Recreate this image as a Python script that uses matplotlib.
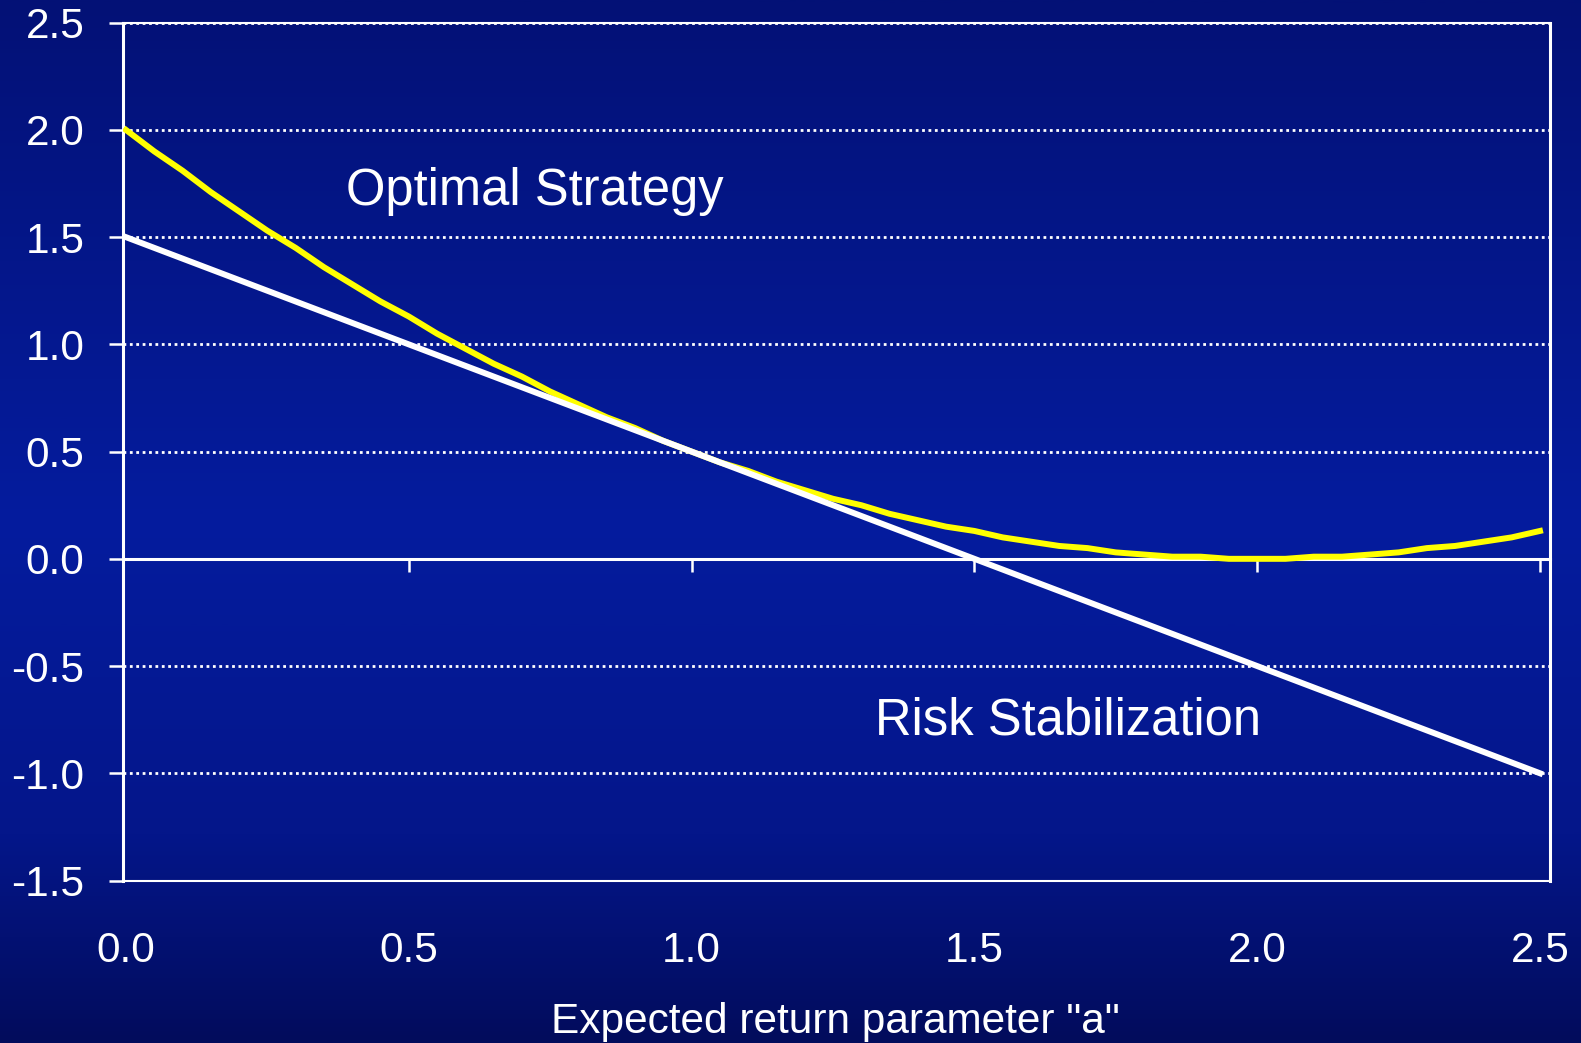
import numpy as np
import matplotlib
matplotlib.use("Agg")
import matplotlib.pyplot as plt
from matplotlib.colors import LinearSegmentedColormap

plt.rcParams["font.family"] = ["Liberation Sans", "DejaVu Sans"]

# Expected return parameter "a"
a_values = [0.00, 0.05, 0.10, 0.15, 0.20, 0.25, 0.30, 0.35, 0.40, 0.45,
            0.50, 0.55, 0.60, 0.65, 0.70, 0.75, 0.80, 0.85, 0.90, 0.95,
            1.00, 1.05, 1.10, 1.15, 1.20, 1.25, 1.30, 1.35, 1.40, 1.45,
            1.50, 1.55, 1.60, 1.65, 1.70, 1.75, 1.80, 1.85, 1.90, 1.95,
            2.00, 2.05, 2.10, 2.15, 2.20, 2.25, 2.30, 2.35, 2.40, 2.45,
            2.50]

optimal_strategy = [2.00, 1.90, 1.81, 1.71, 1.62, 1.53, 1.45, 1.36, 1.28, 1.20,
                    1.13, 1.05, 0.98, 0.91, 0.85, 0.78, 0.72, 0.66, 0.61, 0.55,
                    0.50, 0.45, 0.41, 0.36, 0.32, 0.28, 0.25, 0.21, 0.18, 0.15,
                    0.13, 0.10, 0.08, 0.06, 0.05, 0.03, 0.02, 0.01, 0.01, 0.00,
                    0.00, 0.00, 0.01, 0.01, 0.02, 0.03, 0.05, 0.06, 0.08, 0.10,
                    0.13]

risk_stabilization = [1.50, 1.45, 1.40, 1.35, 1.30, 1.25, 1.20, 1.15, 1.10, 1.05,
                      1.00, 0.95, 0.90, 0.85, 0.80, 0.75, 0.70, 0.65, 0.60, 0.55,
                      0.50, 0.45, 0.40, 0.35, 0.30, 0.25, 0.20, 0.15, 0.10, 0.05,
                      0.00, -0.05, -0.10, -0.15, -0.20, -0.25, -0.30, -0.35, -0.40, -0.45,
                      -0.50, -0.55, -0.60, -0.65, -0.70, -0.75, -0.80, -0.85, -0.90, -0.95,
                      -1.00]

x_ticks = [0.0, 0.5, 1.0, 1.5, 2.0, 2.5]
x_tick_labels = ["0.0", "0.5", "1.0", "1.5", "2.0", "2.5"]
y_ticks = [-1.5, -1.0, -0.5, 0.0, 0.5, 1.0, 1.5, 2.0, 2.5]
y_tick_labels = ["-1.5", "-1.0", "-0.5", "0.0", "0.5", "1.0", "1.5", "2.0", "2.5"]

W, H, DPI = 1581, 1043, 100
fig = plt.figure(figsize=(W / DPI, H / DPI), dpi=DPI)

# slide-style vertical blue gradient behind everything
bg_cmap = LinearSegmentedColormap.from_list(
    "slide_blue",
    [(0.0, (3 / 255, 17 / 255, 118 / 255)),
     (0.5, (5 / 255, 28 / 255, 158 / 255)),
     (0.8, (4 / 255, 22 / 255, 138 / 255)),
     (1.0, (2 / 255, 12 / 255, 92 / 255))])
bg = fig.add_axes([0, 0, 1, 1], zorder=0)
bg.imshow(np.linspace(0, 1, 512).reshape(-1, 1), cmap=bg_cmap, aspect="auto",
          extent=[0, 1, 0, 1], origin="upper")
bg.set_axis_off()

left_px, right_px, top_px, bottom_px = 123.5, 1550.0, 22.7, 880.5
ax = fig.add_axes([left_px / W, 1 - bottom_px / H,
                   (right_px - left_px) / W, (bottom_px - top_px) / H], zorder=1)
ax.patch.set_alpha(0)

ax.set_xlim(-0.0044, 2.5177)
ax.set_ylim(-1.5, 2.5)

# dotted horizontal gridlines
for yv in y_ticks:
    ax.axhline(yv, color="white", lw=2.0, linestyle=(0, (1, 1.3)), zorder=1)

ax.plot(a_values, optimal_strategy, color="#FFFF00", lw=4.3, zorder=3,
        solid_joinstyle="round")
ax.plot(a_values, risk_stabilization, color="white", lw=4.3, zorder=4,
        solid_joinstyle="round")

ax.text(0.389, 1.65, "Optimal Strategy", color="white", fontsize=36.5,
        ha="left", va="baseline")
ax.text(1.324, -0.818, "Risk Stabilization", color="white", fontsize=36.5,
        ha="left", va="baseline")

# frame
for side in ["left", "right"]:
    ax.spines[side].set_color("white")
    ax.spines[side].set_linewidth(2.2)
ax.spines["top"].set_color("white")
ax.spines["top"].set_linewidth(1.5)
ax.spines["bottom"].set_color("white")
ax.spines["bottom"].set_linewidth(1.5)

# y axis
ax.set_yticks(y_ticks)
ax.set_yticklabels(y_tick_labels)
ax.tick_params(axis="y", direction="out", length=10, width=1.8, pad=18,
               colors="white", labelsize=30.5)

# x labels along the bottom edge
ax.set_xticks(x_ticks)
ax.set_xticklabels(x_tick_labels)
ax.tick_params(axis="x", length=0, pad=36, colors="white", labelsize=30.5)

# zero line with its tick marks
zero_axis = ax.secondary_xaxis(0, transform=ax.transData)
zero_axis.set_xticks(x_ticks[1:])
zero_axis.set_xticklabels([])
zero_axis.tick_params(axis="x", direction="out", length=9.5, width=1.8,
                      colors="white")
zero_axis.spines["bottom"].set_color("white")
zero_axis.spines["bottom"].set_linewidth(2.2)

fig.text(835 / W, 1 - 1033 / H, 'Expected return parameter "a"', color="white",
         fontsize=30.5, ha="center", va="baseline")

fig.savefig("out.png", dpi=DPI)
